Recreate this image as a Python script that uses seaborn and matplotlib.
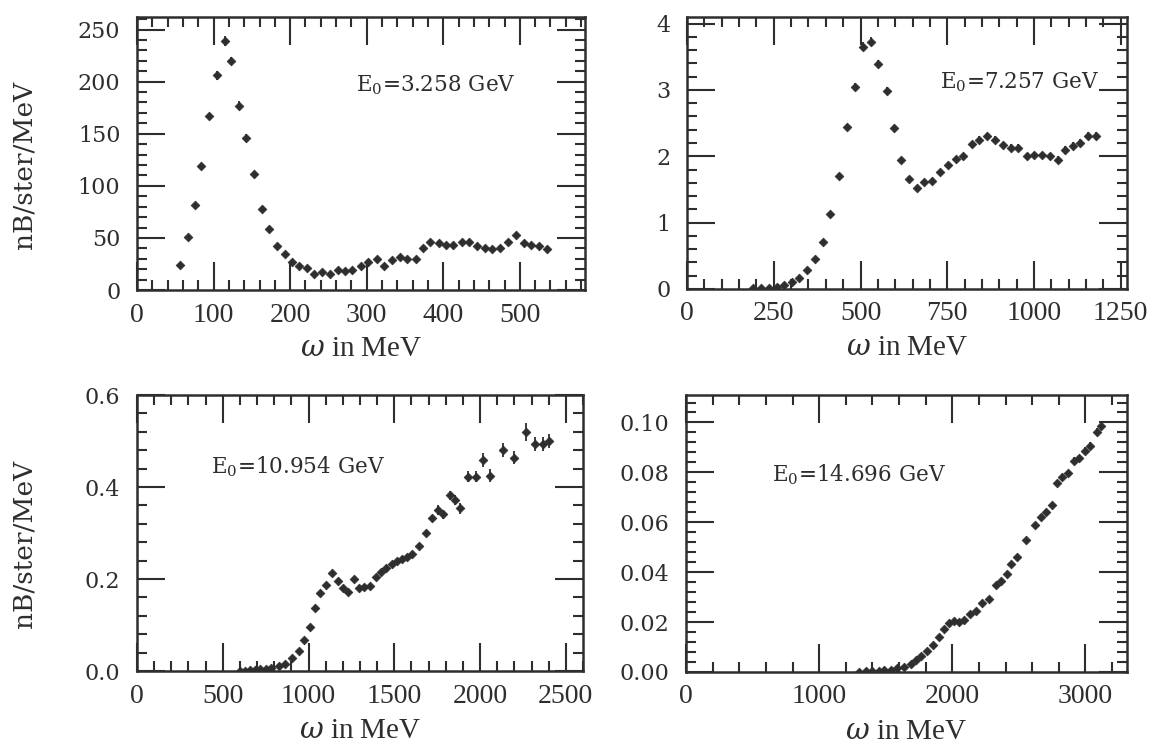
import matplotlib
matplotlib.use("Agg")
import matplotlib.pyplot as plt
from matplotlib.ticker import MultipleLocator, FormatStrFormatter
import numpy as np
import pandas as pd
import seaborn as sns

sns.set_theme(style="ticks")
plt.rcParams['font.family'] = ['DejaVu Serif']
plt.rcParams['mathtext.fontset'] = 'dejavuserif'

INK = "#2e2e2e"

# --- E0 = 3.258 GeV ---
w1 = [56, 66, 76, 84, 94, 104, 115, 123, 133, 143, 153, 163, 173, 183, 193, 202, 212,
      222, 231, 241, 252, 262, 272, 281, 292, 302, 313, 323, 333, 343, 353, 364, 374,
      383, 394, 404, 413, 424, 434, 444, 454, 464, 474, 485, 495, 505, 515, 525, 535]
s1 = [24, 51, 82, 119, 167, 206, 239, 220, 177, 146, 111, 78, 59, 42, 35, 27, 23,
      21, 15, 17, 15, 19, 18, 19, 23, 27, 30, 23, 29, 32, 30, 30, 40,
      46, 45, 43, 43, 46, 46, 42, 40, 39, 40, 46, 53, 45, 43, 42, 39]
e1 = [1, 1.5, 2, 2.5, 3, 4, 5, 4, 4, 3.5, 3, 2.5, 2, 1.5, 1.5, 1.5, 1,
      1, 1, 1, 1, 1, 1, 1, 1.5, 1.5, 1.5, 1.5, 1.5, 1.5, 1.5, 1.5, 2,
      2, 2, 2, 2, 2.5, 2.5, 2, 2, 2, 2, 2.5, 3, 3, 3, 3, 3]

# --- E0 = 7.257 GeV ---
w2 = [191, 214, 236, 258, 280, 302, 324, 347, 370, 392, 413, 438, 462, 485, 506,
      529, 551, 575, 596, 618, 639, 662, 684, 707, 729, 753, 775, 796, 820, 842,
      864, 888, 910, 933, 955, 979, 999, 1023, 1045, 1068, 1090, 1111, 1133, 1157, 1179]
s2 = [0.01, 0.02, 0.02, 0.03, 0.06, 0.10, 0.17, 0.28, 0.45, 0.71, 1.13, 1.71, 2.44, 3.05, 3.65,
      3.73, 3.39, 2.98, 2.42, 1.94, 1.66, 1.52, 1.61, 1.63, 1.76, 1.87, 1.96, 2.00, 2.18, 2.25,
      2.30, 2.25, 2.17, 2.13, 2.13, 2.00, 2.02, 2.02, 2.00, 1.95, 2.09, 2.15, 2.20, 2.30, 2.30]
e2 = [0.01, 0.01, 0.01, 0.01, 0.01, 0.01, 0.01, 0.02, 0.02, 0.03, 0.03, 0.04, 0.05, 0.06, 0.07,
      0.07, 0.06, 0.06, 0.05, 0.04, 0.04, 0.04, 0.04, 0.04, 0.04, 0.04, 0.05, 0.05, 0.05, 0.05,
      0.05, 0.05, 0.05, 0.05, 0.05, 0.05, 0.05, 0.05, 0.05, 0.05, 0.06, 0.06, 0.06, 0.06, 0.06]

# --- E0 = 10.954 GeV ---
w3 = [600, 630, 660, 690, 720, 750, 780, 825, 865, 905, 943, 972, 1006, 1039, 1068, 1102, 1135,
      1170, 1202, 1231, 1266, 1295, 1324, 1356, 1394, 1423, 1454, 1484, 1514, 1543, 1573, 1606,
      1645, 1685, 1722, 1756, 1785, 1827, 1856, 1885, 1930, 1975, 2016, 2058, 2131, 2197, 2266,
      2318, 2366, 2401]
s3 = [0.001, 0.001, 0.002, 0.003, 0.004, 0.005, 0.007, 0.011, 0.016, 0.029, 0.044, 0.068, 0.096,
      0.138, 0.169, 0.186, 0.213, 0.196, 0.180, 0.172, 0.199, 0.181, 0.182, 0.184, 0.204, 0.216,
      0.225, 0.232, 0.239, 0.244, 0.248, 0.254, 0.271, 0.300, 0.332, 0.350, 0.341, 0.382, 0.372,
      0.354, 0.422, 0.422, 0.459, 0.425, 0.480, 0.464, 0.520, 0.494, 0.494, 0.500]
e3 = [0.001, 0.001, 0.001, 0.001, 0.001, 0.001, 0.002, 0.002, 0.002, 0.003, 0.003, 0.004, 0.005,
      0.005, 0.005, 0.005, 0.005, 0.005, 0.005, 0.005, 0.006, 0.005, 0.005, 0.005, 0.005, 0.005,
      0.005, 0.005, 0.005, 0.005, 0.005, 0.006, 0.006, 0.007, 0.008, 0.010, 0.010, 0.010, 0.010,
      0.012, 0.012, 0.012, 0.015, 0.015, 0.015, 0.015, 0.020, 0.015, 0.015, 0.015]
xe3 = [0, 0, 0, 0, 0, 0, 0, 0, 0, 0, 0, 0, 0, 0, 0, 0, 0, 0, 0, 0, 0, 0, 0, 0, 0, 0, 0, 0, 0, 0,
       0, 0, 0, 0, 0, 8, 8, 8, 8, 8, 15, 15, 10, 15, 15, 15, 10, 15, 15, 15]

# --- E0 = 14.696 GeV ---
w4 = [1300, 1350, 1400, 1450, 1488, 1538, 1588, 1638, 1688, 1725, 1768, 1813, 1855, 1900, 1938,
      1975, 2013, 2050, 2088, 2133, 2175, 2225, 2275, 2325, 2363, 2408, 2443, 2483, 2550, 2618,
      2663, 2700, 2745, 2788, 2825, 2868, 2913, 2950, 2995, 3033, 3083, 3118]
s4 = [0.0001, 0.0002, 0.0003, 0.0004, 0.0006, 0.0009, 0.0016, 0.0022, 0.0033, 0.0047, 0.0064,
      0.0083, 0.0107, 0.0140, 0.0173, 0.0197, 0.0204, 0.0202, 0.0210, 0.0233, 0.0243, 0.0276,
      0.0293, 0.0347, 0.0363, 0.0393, 0.0433, 0.0460, 0.0527, 0.0589, 0.0620, 0.0640, 0.0669,
      0.0757, 0.0780, 0.0797, 0.0847, 0.0856, 0.0887, 0.0907, 0.0960, 0.0987]
e4 = [0.0001, 0.0001, 0.0001, 0.0001, 0.0002, 0.0002, 0.0002, 0.0002, 0.0003, 0.0003, 0.0003,
      0.0003, 0.0004, 0.0004, 0.0004, 0.0004, 0.0004, 0.0004, 0.0005, 0.0005, 0.0005, 0.0005,
      0.0006, 0.0006, 0.0007, 0.0007, 0.0008, 0.0008, 0.0010, 0.0010, 0.0012, 0.0012, 0.0012,
      0.0012, 0.0013, 0.0013, 0.0014, 0.0014, 0.0015, 0.0015, 0.0016, 0.0018]
xe4 = [0, 0, 0, 0, 0, 0, 0, 0, 0, 0, 0, 0, 0, 0, 0, 0, 0, 0, 0, 0, 0, 0, 0, 0, 0, 0, 0, 0,
       12, 0, 12, 12, 0, 0, 12, 12, 12, 12, 12, 12, 12, 12]

labels = ["E$_0$=3.258 GeV", "E$_0$=7.257 GeV", "E$_0$=10.954 GeV", "E$_0$=14.696 GeV"]

panels = [
    dict(w=w1, s=s1, ye=e1, xe=None, xlim=(0, 585), ylim=(0, 262), xmaj=100, xmin=20,
         ymaj=50, ymin=10, yfmt="%d", pos=[0.1182, 0.6138, 0.3865, 0.3635], txt=(0.49, 0.75)),
    dict(w=w2, s=s2, ye=e2, xe=None, xlim=(0, 1268), ylim=(0, 4.1), xmaj=250, xmin=50,
         ymaj=1, ymin=0.2, yfmt="%d", pos=[0.5928, 0.6152, 0.3796, 0.3622], txt=(0.575, 0.762)),
    dict(w=w3, s=s3, ye=e3, xe=xe3, xlim=(0, 2600), ylim=(0, 0.6), xmaj=500, xmin=100,
         ymaj=0.2, ymin=0.04, yfmt="%.1f", pos=[0.1182, 0.1065, 0.3848, 0.3675], txt=(0.167, 0.74)),
    dict(w=w4, s=s4, ye=e4, xe=xe4, xlim=(0, 3312), ylim=(0, 0.111), xmaj=1000, xmin=200,
         ymaj=0.02, ymin=0.004, yfmt="%.2f", pos=[0.5919, 0.1052, 0.3805, 0.3688], txt=(0.194, 0.711)),
]

fig = plt.figure(figsize=(11.59, 7.51), dpi=100)
fig.patch.set_facecolor("white")

for i, p in enumerate(panels):
    ax = fig.add_axes(p["pos"])
    ax.set_facecolor("white")
    df = pd.DataFrame({"omega": p["w"], "xs": p["s"]})
    ax.errorbar(p["w"], p["s"], yerr=p["ye"], xerr=p["xe"], fmt="none",
                ecolor=INK, elinewidth=1.3, capsize=0, zorder=2)
    sns.scatterplot(data=df, x="omega", y="xs", ax=ax, marker="D", s=20,
                    color=INK, edgecolor=INK, linewidth=0.5, zorder=3, legend=False)
    ax.set_xlim(*p["xlim"])
    ax.set_ylim(*p["ylim"])
    ax.xaxis.set_major_locator(MultipleLocator(p["xmaj"]))
    ax.xaxis.set_minor_locator(MultipleLocator(p["xmin"]))
    ax.yaxis.set_major_locator(MultipleLocator(p["ymaj"]))
    ax.yaxis.set_minor_locator(MultipleLocator(p["ymin"]))
    ax.yaxis.set_major_formatter(FormatStrFormatter(p["yfmt"]))
    ax.tick_params(which="both", direction="in", top=True, right=True, color=INK)
    ax.tick_params(which="major", length=20, width=1.5)
    ax.tick_params(which="minor", length=7, width=1.5)
    ax.tick_params(axis="x", which="major", pad=9, labelsize=20, labelcolor=INK)
    ax.tick_params(axis="y", which="major", pad=12, labelsize=16, labelcolor=INK)
    ax.set_xticks(ax.get_xticks())
    ax.set_xticklabels([str(int(t)) for t in ax.get_xticks()], family="Liberation Serif")
    ax.set_xlim(*p["xlim"])
    for sp in ax.spines.values():
        sp.set_color(INK)
        sp.set_linewidth(1.8)
    ax.set_xlabel(r"$\omega$ in MeV", fontsize=21, color=INK, family="Liberation Serif")
    ax.xaxis.set_label_coords(0.5, -0.17)
    if i % 2 == 0:
        ax.set_ylabel("nB/ster/MeV", fontsize=19, color=INK)
        ax.yaxis.set_label_coords(-0.225, 0.46)
    else:
        ax.set_ylabel("")
    ax.text(p["txt"][0], p["txt"][1], labels[i], transform=ax.transAxes,
            fontsize=15.5, color=INK, va="center", ha="left")

fig.savefig("out.png", dpi=100, facecolor="white")
